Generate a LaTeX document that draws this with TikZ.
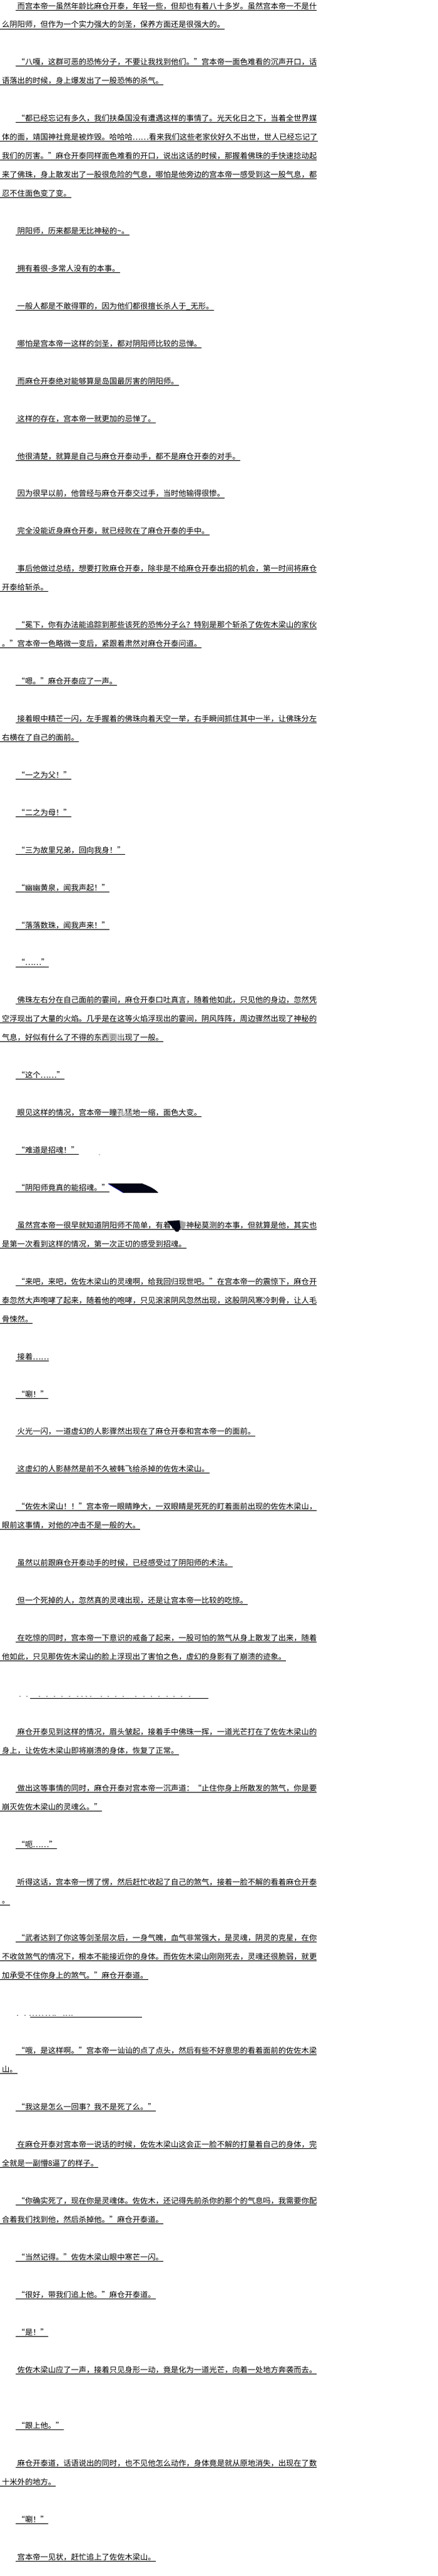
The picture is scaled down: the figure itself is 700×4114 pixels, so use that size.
\documentclass[tikz,border=0pt]{standalone}
\usepackage{fontspec}
\newfontfamily\cjk{Noto Sans CJK SC}

\tikzset{
  textrow/.style={anchor=base west, inner sep=0pt, font=\cjk\fontsize{12.27pt}{12.27pt}\selectfont},
  uline/.style={line width=0.9pt},
  inkblot/.style={fill={rgb,255:red,4;green,6;blue,22}},
}

\begin{document}
\begin{tikzpicture}[x=1pt,y=-1pt]
    \useasboundingbox (0,0) rectangle (700,4114);
    % every printed line: row / indent / text
    \foreach \r/\i/\t in {
      0/1/{而宫本帝一虽然年龄比麻仓开泰，年轻一些，但却也有着八十多岁。虽然宫本帝一不是什},
      1/0/{么阴阳师，但作为一个实力强大的剑圣，保养方面还是很强大的。},
      3/1/{“八嘎，这群可恶的恐怖分子，不要让我找到他们。”宫本帝一面色难看的沉声开口，话},
      4/0/{语落出的时候，身上爆发出了一股恐怖的杀气。},
      6/1/{“都已经忘记有多久，我们扶桑国没有遭遇这样的事情了。光天化日之下，当着全世界媒},
      7/0/{体的面，靖国神社竟是被炸毁。哈哈哈……看来我们这些老家伙好久不出世，世人已经忘记了},
      8/0/{我们的厉害。”麻仓开泰同样面色难看的开口，说出这话的时候，那握着佛珠的手快速捻动起},
      9/0/{来了佛珠，身上散发出了一股很危险的气息，哪怕是他旁边的宫本帝一感受到这一股气息，都},
      10/0/{忍不住面色变了变。},
      12/1/{阴阳师，历来都是无比神秘的\textasciitilde。},
      14/1/{拥有着很-多常人没有的本事。},
      16/1/{一般人都是不敢得罪的，因为他们都很擅长杀人于\_无形。},
      18/1/{哪怕是宫本帝一这样的剑圣，都对阴阳师比较的忌惮。},
      20/1/{而麻仓开泰绝对能够算是岛国最厉害的阴阳师。},
      22/1/{这样的存在，宫本帝一就更加的忌惮了。},
      24/1/{他很清楚，就算是自己与麻仓开泰动手，都不是麻仓开泰的对手。},
      26/1/{因为很早以前，他曾经与麻仓开泰交过手，当时他输得很惨。},
      28/1/{完全没能近身麻仓开泰，就已经败在了麻仓开泰的手中。},
      30/1/{事后他做过总结，想要打败麻仓开泰，除非是不给麻仓开泰出招的机会，第一时间将麻仓},
      31/0/{开泰给斩杀。},
      33/1/{“冕下，你有办法能追踪到那些该死的恐怖分子么？特别是那个斩杀了佐佐木梁山的家伙},
      34/0/{。”宫本帝一色略微一变后，紧跟着肃然对麻仓开泰问道。},
      36/1/{“嗯。”麻仓开泰应了一声。},
      38/1/{接着眼中精芒一闪，左手握着的佛珠向着天空一举，右手瞬间抓住其中一半，让佛珠分左},
      39/0/{右横在了自己的面前。},
      41/1/{“一之为父！”},
      43/1/{“二之为母！”},
      45/1/{“三为故里兄弟，回向我身！”},
      47/1/{“幽幽黄泉，闻我声起！”},
      49/1/{“落落数珠，闻我声来！”},
      51/1/{“……”},
      53/1/{佛珠左右分在自己面前的霎间，麻仓开泰口吐真言，随着他如此，只见他的身边，忽然凭},
      54/0/{空浮现出了大量的火焰。几乎是在这等火焰浮现出的霎间，阴风阵阵，周边骤然出现了神秘的},
      55/0/{气息，好似有什么了不得的东西要出现了一般。},
      57/1/{“这个……”},
      59/1/{眼见这样的情况，宫本帝一瞳孔猛地一缩，面色大变。},
      61/1/{“难道是招魂！”},
      63/1/{“阴阳师竟真的能招魂。”},
      65/1/{虽然宫本帝一很早就知道阴阳师不简单，有着很多神秘莫测的本事，但就算是他，其实也},
      66/0/{是第一次看到这样的情况，第一次正切的感受到招魂。},
      68/1/{“来吧，来吧，佐佐木梁山的灵魂啊，给我回归现世吧。”在宫本帝一的震惊下，麻仓开},
      69/0/{泰忽然大声咆哮了起来，随着他的咆哮，只见滚滚阴风忽然出现，这股阴风寒冷刺骨，让人毛},
      70/0/{骨悚然。},
      72/1/{接着……},
      74/1/{“唰！”},
      76/1/{火光一闪，一道虚幻的人影骤然出现在了麻仓开泰和宫本帝一的面前。},
      78/1/{这虚幻的人影赫然是前不久被韩飞给杀掉的佐佐木梁山。},
      80/1/{“佐佐木梁山！！”宫本帝一眼睛睁大，一双眼睛是死死的盯着面前出现的佐佐木梁山，},
      81/0/{眼前这事情，对他的冲击不是一般的大。},
      83/1/{虽然以前跟麻仓开泰动手的时候，已经感受过了阴阳师的术法。},
      85/1/{但一个死掉的人，忽然真的灵魂出现，还是让宫本帝一比较的吃惊。},
      87/1/{在吃惊的同时，宫本帝一下意识的戒备了起来，一股可怕的煞气从身上散发了出来，随着},
      88/0/{他如此，只见那佐佐木梁山的脸上浮现出了害怕之色，虚幻的身影有了崩溃的迹象。},
      92/1/{麻仓开泰见到这样的情况，眉头皱起，接着手中佛珠一挥，一道光芒打在了佐佐木梁山的},
      93/0/{身上，让佐佐木梁山即将崩溃的身体，恢复了正常。},
      95/1/{做出这等事情的同时，麻仓开泰对宫本帝一沉声道：“止住你身上所散发的煞气，你是要},
      96/0/{崩灭佐佐木梁山的灵魂么。”},
      98/1/{“呃……”},
      100/1/{听得这话，宫本帝一愣了愣，然后赶忙收起了自己的煞气，接着一脸不解的看着麻仓开泰},
      101/0/{。},
      103/1/{“武者达到了你这等剑圣层次后，一身气魄，血气非常强大，是灵魂，阴灵的克星，在你},
      104/0/{不收敛煞气的情况下，根本不能接近你的身体。而佐佐木梁山刚刚死去，灵魂还很脆弱，就更},
      105/0/{加承受不住你身上的煞气。”麻仓开泰道。},
      109/1/{“哦，是这样啊。”宫本帝一讪讪的点了点头，然后有些不好意思的看着面前的佐佐木梁},
      110/0/{山。},
      112/1/{“我这是怎么一回事？我不是死了么。”},
      114/1/{在麻仓开泰对宫本帝一说话的时候，佐佐木梁山这会正一脸不解的打量着自己的身体，完},
      115/0/{全就是一副懵8逼了的样子。},
      117/1/{“你确实死了，现在你是灵魂体。佐佐木，还记得先前杀你的那个的气息吗，我需要你配},
      118/0/{合着我们找到他，然后杀掉他。”麻仓开泰道。},
      120/1/{“当然记得。”佐佐木梁山眼中寒芒一闪。},
      122/1/{“很好，带我们追上他。”麻仓开泰道。},
      124/1/{“是！”},
      126/1/{佐佐木梁山应了一声，接着只见身形一动，竟是化为一道光芒，向着一处地方奔袭而去。},
      129/1/{“跟上他。”},
      131/1/{麻仓开泰道，话语说出的同时，也不见他怎么动作，身体竟是就从原地消失，出现在了数},
      132/0/{十米外的地方。},
      134/1/{“唰！”},
      136/1/{宫本帝一见状，赶忙追上了佐佐木梁山。}}
    {
      \node[textrow] (l\r) at ({3+24.54*\i},{14+29.96*\r}) {\t};
      \draw[uline] ([xshift=-3pt,yshift=-2pt]l\r.base west) -- ([yshift=-2pt]l\r.base east);
    }
    % the two rows of dots
    \foreach \x in {32,43,63,75,87,99,111,124,131,138,145,162,173,185,197,217,230,242,254,267,278,290,303}
      \fill (\x,2709) circle (0.75pt);
    \draw[uline] (48,2712.4) -- (333,2712.4);
    \foreach \x in {28,40,48,53,58,63,68,74,79,85,88,102,106,111,115}
      \fill (\x,3218.5) circle (0.75pt);
    \draw[uline] (48,3221.7) -- (227,3221.7);
    % stray marks over the text
    \fill[inkblot] (173,1890) -- (227,1890) .. controls (240,1895) and (248,1899) .. (253,1905) -- (197,1905) -- cycle;
    \draw[blue!60!black, line width=0.8pt] (173,1890.5) -- (197,1904.5);
    \fill[inkblot] (267,1950) -- (287,1949) -- (290,1958) -- (285,1967) -- (281,1967) -- cycle;
    \fill[gray!70] (287,1949) -- (297,1952) -- (295,1962) -- (289,1964) -- cycle;
    \fill[inkblot] (159,1844) circle (0.7pt);
    \fill[gray!40, opacity=0.6] (186,1773) -- (212,1778) -- (208,1786) -- (190,1783) -- cycle;
    \fill[gray!40, opacity=0.6] (169,1649) -- (199,1652) -- (196,1662) -- (172,1660) -- cycle;
\end{tikzpicture}
\end{document}
